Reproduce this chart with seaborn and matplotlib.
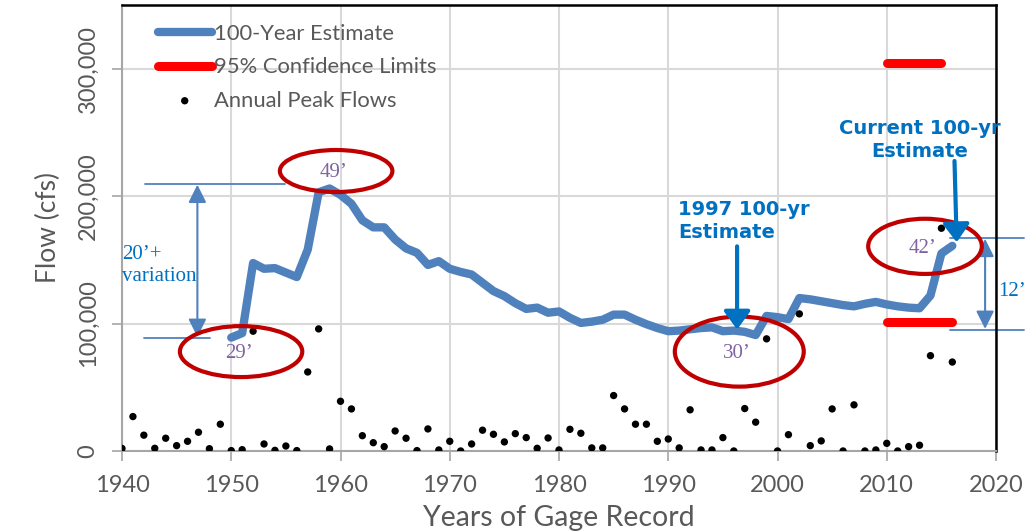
import matplotlib
matplotlib.use("Agg")
import matplotlib.pyplot as plt
import seaborn as sns
import pandas as pd
from matplotlib.patches import Ellipse

# Annual peak flows (cfs), 1940-2016
peak_years = list(range(1940, 2017))
peak_flows = [2000, 27000, 12400, 2100, 10000, 4200, 7600, 14700, 1800, 21000,
              300, 1000, 94000, 5500, 500, 3900, 300, 62000, 95800, 1600,
              39000, 33000, 12000, 6500, 3400, 15700, 10000, 300, 17300, 800,
              7600, 0, 5500, 16300, 13100, 7100, 13600, 10500, 2100, 10200,
              800, 17000, 13900, 2400, 2400, 43500, 33000, 21000, 21000, 7600,
              9400, 2400, 32300, 800, 800, 10500, 0, 33300, 22600, 88000,
              0, 12800, 107600, 4200, 7900, 33000, 0, 36200, 0, 800,
              6000, 0, 3400, 4500, 74800, 174800, 69800]

# 100-year flood estimate by year of record
est_years = list(range(1950, 2017))
est_flows = [89000, 92500, 147500, 143000, 143500, 140000, 136500, 158000, 203000, 206000,
             201000, 194000, 181000, 175500, 175500, 166000, 159000, 155500, 146000, 149000,
             143000, 140500, 138500, 132000, 125500, 121500, 116000, 111500, 112500, 108500,
             109500, 104500, 100500, 101500, 103000, 107000, 107000, 103000, 99500, 96500,
             94000, 94500, 95500, 96500, 97000, 94000, 94500, 93500, 91000, 106000,
             105000, 103500, 120000, 119000, 117500, 116000, 114500, 113500, 115500, 117000,
             115000, 113500, 112500, 112000, 122000, 155000, 161000]

# 95% confidence limits for the current estimate
upper_years = [2010, 2015]
upper_flows = [304500, 304500]
lower_years = [2010, 2016]
lower_flows = [101000, 101000]

sns.set_theme(style="whitegrid")
plt.rcParams['font.family'] = ['Lato', 'DejaVu Sans']

gray_txt = '#595959'
blue_txt = '#0070C0'
dim_blue = '#4F81BD'
purple = '#8064A2'
ring = '#C00000'

fig, ax = plt.subplots(figsize=(10.33, 5.32), dpi=100)
fig.subplots_adjust(left=0.1181, right=0.9642, bottom=0.1523, top=0.9906)

sns.lineplot(x=est_years, y=est_flows, ax=ax, color='#4F81BD', linewidth=6,
             solid_capstyle='round', solid_joinstyle='round', label='100-Year Estimate', zorder=3)
sns.lineplot(x=upper_years, y=upper_flows, ax=ax, color='#FF0000', linewidth=6.5,
             solid_capstyle='round', label='95% Confidence Limits', zorder=3)
sns.lineplot(x=lower_years, y=lower_flows, ax=ax, color='#FF0000', linewidth=6.5,
             solid_capstyle='round', legend=False, zorder=3)
sns.scatterplot(x=peak_years, y=peak_flows, ax=ax, color='black', s=28, edgecolor='none',
                label='Annual Peak Flows', zorder=4)

ax.set_xlim(1940, 2020)
ax.set_ylim(0, 350000)
ax.set_xticks(range(1940, 2021, 10))
ax.set_yticks([0, 100000, 200000, 300000])
ax.set_yticklabels(['0', '100,000', '200,000', '300,000'], rotation=90, va='center')
ax.grid(True, color='#D9D9D9', linewidth=1.5)
ax.tick_params(axis='both', colors='#A6A6A6', labelcolor=gray_txt, labelsize=17,
               length=7, width=1.2, direction='out')
ax.tick_params(axis='x', bottom=True, pad=10)
ax.tick_params(axis='y', left=True, pad=10)
for side in ['left', 'bottom']:
    ax.spines[side].set_color('#A6A6A6')
    ax.spines[side].set_linewidth(1.5)
for side in ['top', 'right']:
    ax.spines[side].set_color('black')
    ax.spines[side].set_linewidth(1.8)
    ax.spines[side].set_visible(True)

ax.set_xlabel('Years of Gage Record', fontsize=20.5, color=gray_txt, labelpad=7)
ax.set_ylabel('Flow (cfs)', fontsize=19, color=gray_txt, labelpad=12)

leg = ax.legend(loc='upper left', bbox_to_anchor=(0.041, 0.957), frameon=False,
                fontsize=15.8, handlelength=2.45, handletextpad=0.12, labelspacing=0.6,
                borderpad=0, borderaxespad=0)
for t in leg.get_texts():
    t.set_color(gray_txt)

# red rings around stage labels
rings = [(1959.6, 219700, 10.3, 33000, "49\u2019"),
         (1950.9, 78000, 11.2, 40000, "29\u2019"),
         (1996.5, 78000, 11.8, 55000, "30\u2019"),
         (2013.5, 160600, 10.4, 43300, "42\u2019")]
for cx, cy, w, h, lab in rings:
    ax.add_patch(Ellipse((cx, cy), w, h, fill=False, edgecolor=ring, linewidth=3, zorder=5))
    ax.text(cx - 0.2, cy - 1500, lab, ha='center', va='center', color=purple, fontsize=15,
            family='Liberation Serif', zorder=6)

# left dimension: 20'+ variation
ax.plot([1942.1, 1954.9], [209400, 209400], color=dim_blue, lw=1.3, zorder=2)
ax.plot([1942.0, 1948.1], [89000, 89000], color=dim_blue, lw=1.3, zorder=2)
ax.annotate('', xy=(1946.9, 89500), xytext=(1946.9, 209000),
            arrowprops=dict(arrowstyle='<|-|>,head_length=0.6,head_width=0.3', color=dim_blue,
                            lw=1.5, mutation_scale=18, shrinkA=0, shrinkB=0), zorder=2)
ax.text(1940.0, 145700, "20\u2019+\nvariation", ha='left', va='center', color=blue_txt,
        fontsize=15, family='Liberation Serif', linespacing=1.25)

# right dimension: 12'
ax.plot([2015.75, 2022.6], [167000, 167000], color=dim_blue, lw=1.3, clip_on=False, zorder=2)
ax.plot([2015.75, 2022.6], [95300, 95300], color=dim_blue, lw=1.3, clip_on=False, zorder=2)
ax.annotate('', xy=(2019.0, 95800), xytext=(2019.0, 166500),
            arrowprops=dict(arrowstyle='<|-|>,head_length=0.6,head_width=0.3', color=dim_blue,
                            lw=1.5, mutation_scale=18, shrinkA=0, shrinkB=0),
            annotation_clip=False, zorder=2)
ax.text(2021.5, 125000, "12\u2019", ha='center', va='center', color=blue_txt, fontsize=15,
        family='Liberation Serif', clip_on=False)

# estimate call-outs
ax.text(1990.9, 180500, "1997 100-yr\nEstimate", ha='left', va='center', color=blue_txt,
        fontsize=14, fontweight='bold', family='DejaVu Sans', linespacing=1.3)
ax.annotate('', xy=(1996.3, 95300), xytext=(1996.3, 160600),
            arrowprops=dict(arrowstyle='-|>,head_length=0.55,head_width=0.4', color=blue_txt,
                            lw=3, mutation_scale=20, shrinkA=0, shrinkB=0), zorder=7)
ax.text(2013.0, 244000, "Current 100-yr\nEstimate", ha='center', va='center', color=blue_txt,
        fontsize=14, fontweight='bold', family='DejaVu Sans', linespacing=1.3, clip_on=False)
ax.annotate('', xy=(2016.4, 163800), xytext=(2016.2, 227600),
            arrowprops=dict(arrowstyle='-|>,head_length=0.55,head_width=0.4', color=blue_txt,
                            lw=3, mutation_scale=20, shrinkA=0, shrinkB=0), zorder=7)

plt.savefig('out.png', dpi=100)
